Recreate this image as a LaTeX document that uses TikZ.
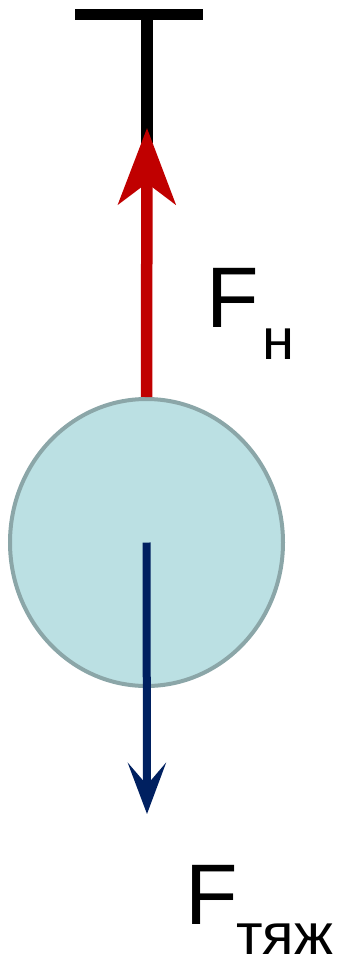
\documentclass[tikz,border=0pt]{standalone}
\usepackage{fontspec}
\setmainfont{Liberation Sans}
\usetikzlibrary{arrows.meta,shapes.geometric}
\definecolor{tred}{HTML}{C00000}
\definecolor{tnavy}{HTML}{002060}
\definecolor{ballfill}{HTML}{BBE0E3}
\definecolor{ballline}{HTML}{8BA6A8}
\tikzset{
  ballstyle/.style={ellipse, draw=ballline, fill=ballfill, line width=4pt, inner sep=0pt, minimum width=273pt, minimum height=287pt},
  hanger/.style={line width=11.5pt, black},
  tensionarrow/.style={line width=11.5pt, tred, -{Stealth[length=76pt,width=57pt,inset=21pt]}},
  weightarrow/.style={line width=8pt, tnavy, -{Stealth[length=51pt,width=38pt,inset=22pt]}},
  bigF/.style={anchor=base west, inner sep=0pt, text depth=0pt, font=\fontsize{86}{86}\selectfont},
  subF/.style={anchor=base west, inner sep=0pt, text depth=0pt, font=\fontsize{58}{58}\selectfont}
}
\begin{document}
\begin{tikzpicture}[x=1pt,y=-1pt]
\useasboundingbox (0,0) rectangle (339,960);
% support
\coordinate (barL) at (75,14.5);
\coordinate (barR) at (203,14.5);
\coordinate (barM) at (147,14.5);
\coordinate (hangEnd) at (147,143);
\draw[line width=11.5pt] (barL) -- (barR);
\draw[hanger] (barM) -- (hangEnd);
% ball
\node[ballstyle] (ball) at (146.5,542.5) {};
% forces
\coordinate (htip) at (147,128);
\coordinate (gtip) at (147,814);
\draw[tensionarrow] (ball.north) -- (htip);
\draw[weightarrow] (ball.center) -- (gtip);
% labels
\node[bigF] (Fn) at (206,327) {F};
\node[subF] (Fnsub) at (262,359) {н};
\node[bigF] (Fg) at (185,924) {F};
\node[subF] (Fgsub) at (236,954) {тяж};
\end{tikzpicture}
\end{document}
